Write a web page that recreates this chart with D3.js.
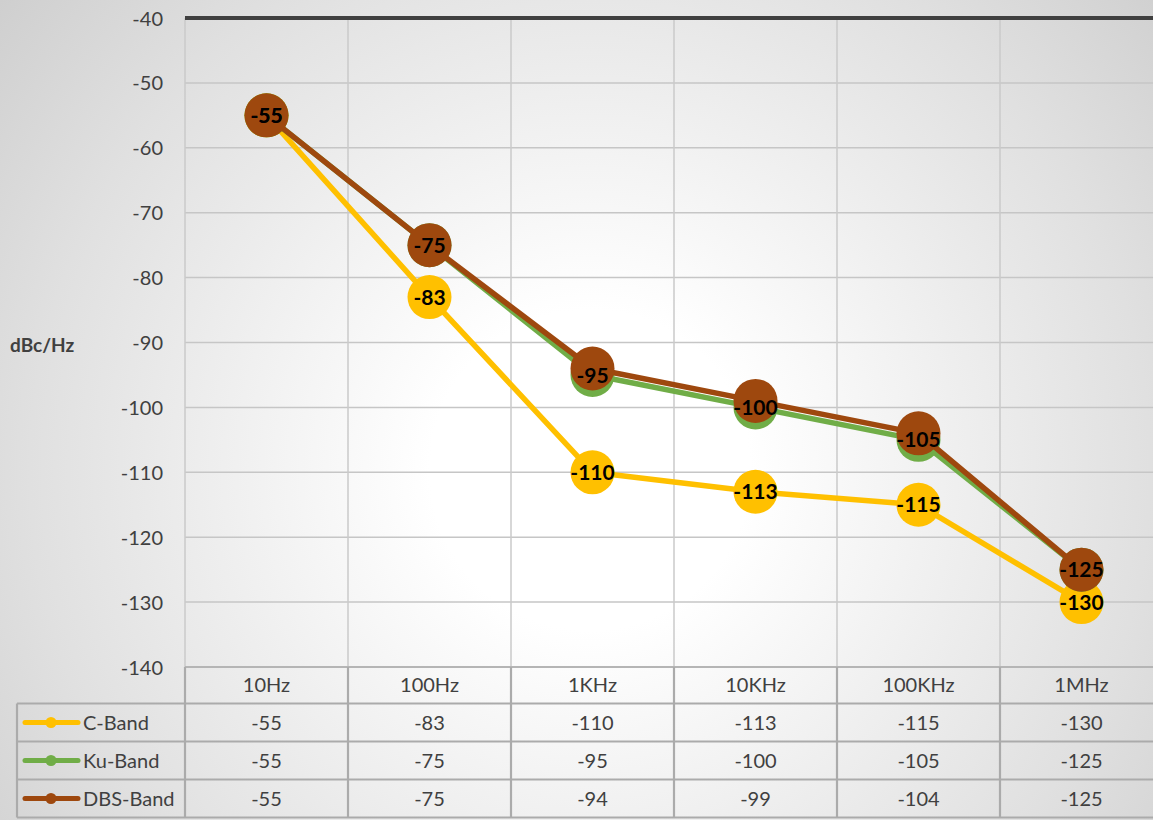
<!DOCTYPE html>
<html><head><meta charset="utf-8">
<script src="https://cdn.jsdelivr.net/npm/d3@7"></script>
<style>html,body{margin:0;padding:0;overflow:hidden;background:#fff}</style>
</head><body>
<svg id="c" width="1153" height="820"></svg>
<script>
const categories = ["10Hz","100Hz","1KHz","10KHz","100KHz","1MHz"];
const seriesNames = ["C-Band","Ku-Band","DBS-Band"];
const cBand = [-55,-83,-110,-113,-115,-130];
const kuBand = [-55,-75,-95,-100,-105,-125];
const dbsBand = [-55,-75,-94,-99,-104,-125];
const yTicks = [-40,-50,-60,-70,-80,-90,-100,-110,-120,-130,-140];
const yLabel = "dBc/Hz";

(function(){
const series = [
  {name: seriesNames[0], values: cBand, color: "#FFC000", labels: true},
  {name: seriesNames[1], values: kuBand, color: "#70AD47", labels: true},
  {name: seriesNames[2], values: dbsBand, color: "#9E480E", labels: false}
];

const W = 1153, H = 820;
const pLeft = 185, pRight = 1163, pTop = 18, pBottom = 667;
const font = "Lato, 'Open Sans', sans-serif";
const fmt = d => String(d);
const svg = d3.select("#c");

const defs = svg.append("defs");
const rg = defs.append("radialGradient").attr("id","bg")
  .attr("gradientUnits","userSpaceOnUse").attr("cx",590).attr("cy",470).attr("r",800);
rg.append("stop").attr("offset","0").attr("stop-color","#ffffff");
rg.append("stop").attr("offset","0.2").attr("stop-color","#ffffff");
rg.append("stop").attr("offset","0.7").attr("stop-color","#e0e0e0");
rg.append("stop").attr("offset","1").attr("stop-color","#cbcbcb");
svg.append("rect").attr("width",W).attr("height",H).attr("fill","url(#bg)");

const x = d3.scaleBand().domain(categories).range([pLeft,pRight]);
const y = d3.scaleLinear().domain([-140,-40]).range([pBottom,pTop]);

svg.append("g").selectAll("line").data(yTicks.filter(t=>t!==-40 && t!==-140)).join("line")
  .attr("x1",pLeft).attr("x2",W).attr("y1",d=>y(d)).attr("y2",d=>y(d))
  .attr("stroke","#c6c6c6").attr("stroke-width",1.5);
const bounds = categories.map(c=>x(c));
svg.append("g").selectAll("line").data(bounds).join("line")
  .attr("x1",d=>d).attr("x2",d=>d).attr("y1",pTop).attr("y2",pBottom)
  .attr("stroke","#cacaca").attr("stroke-width",1.5);

const yAxis = d3.axisLeft(y).tickValues(yTicks).tickSize(0).tickPadding(22).tickFormat(fmt);
const ya = svg.append("g").attr("transform",`translate(${pLeft},0)`).call(yAxis);
ya.select(".domain").remove();
ya.selectAll("text").attr("font-family",font).attr("font-size",20).attr("fill","#404040").attr("dy","0.35em");

svg.append("text").attr("x",10).attr("y",345).attr("dy","0.35em").attr("font-family",font)
  .attr("font-weight","bold").attr("font-size",19).attr("fill","#404040").text(yLabel);

svg.append("line").attr("x1",pLeft).attr("x2",W).attr("y1",y(-40)).attr("y2",y(-40))
  .attr("stroke","#404040").attr("stroke-width",4);

const rowH = 38;
const tableTop = pBottom, hdrBottom = pBottom + 36.5;
const tg = svg.append("g");
const borderC = "#ababab";
tg.selectAll("text.h").data(categories).join("text")
  .attr("x",d=>x(d)+x.bandwidth()/2).attr("y",(tableTop+hdrBottom)/2).attr("dy","0.35em")
  .attr("text-anchor","middle").attr("font-family",font).attr("font-size",20).attr("fill","#404040").text(d=>d);
tg.append("line").attr("x1",pLeft).attr("x2",W).attr("y1",pBottom).attr("y2",pBottom).attr("stroke","#b5b5b5").attr("stroke-width",2);
const rowYs = series.map((s,i)=>hdrBottom + i*rowH);
const tableBottom = hdrBottom + series.length*rowH;
tg.selectAll("line.r").data([...rowYs, tableBottom]).join("line")
  .attr("x1",17).attr("x2",W).attr("y1",d=>d).attr("y2",d=>d).attr("stroke",borderC).attr("stroke-width",2.2);
tg.selectAll("line.v").data(bounds).join("line")
  .attr("x1",d=>d).attr("x2",d=>d).attr("y1",tableTop).attr("y2",tableBottom).attr("stroke",borderC).attr("stroke-width",2.2);
tg.append("line").attr("x1",17).attr("x2",17).attr("y1",hdrBottom).attr("y2",tableBottom).attr("stroke",borderC).attr("stroke-width",2.2);

series.forEach((s,i)=>{
  const cy = hdrBottom + i*rowH + rowH/2;
  tg.append("line").attr("x1",25).attr("x2",78).attr("y1",cy).attr("y2",cy)
    .attr("stroke",s.color).attr("stroke-width",5).attr("stroke-linecap","round");
  tg.append("circle").attr("cx",51).attr("cy",cy).attr("r",5.5).attr("fill",s.color);
  tg.append("text").attr("x",83).attr("y",cy).attr("dy","0.35em").attr("font-family",font)
    .attr("font-size",20).attr("fill","#404040").text(s.name);
  tg.selectAll(null).data(s.values).join("text")
    .attr("x",(d,j)=>x(categories[j])+x.bandwidth()/2).attr("y",cy).attr("dy","0.35em")
    .attr("text-anchor","middle").attr("font-family",font).attr("font-size",20).attr("fill","#404040")
    .text(fmt);
});

const line = d3.line().x((d,j)=>x(categories[j])+x.bandwidth()/2).y(d=>y(d));
const pg = svg.append("g");
series.forEach(s=>{
  pg.append("path").attr("d",line(s.values)).attr("fill","none").attr("stroke",s.color)
    .attr("stroke-width",5.5).attr("stroke-linejoin","round");
  pg.selectAll(null).data(s.values).join("circle")
    .attr("cx",(d,j)=>x(categories[j])+x.bandwidth()/2).attr("cy",d=>y(d)).attr("r",22).attr("fill",s.color);
});
series.filter(s=>s.labels).forEach(s=>{
  pg.selectAll(null).data(s.values).join("text")
    .attr("x",(d,j)=>x(categories[j])+x.bandwidth()/2).attr("y",d=>y(d)).attr("dy","0.36em")
    .attr("text-anchor","middle").attr("font-family",font).attr("font-weight","bold")
    .attr("font-size",21).attr("fill","#000").text(fmt);
});
})();
</script>
</body></html>
